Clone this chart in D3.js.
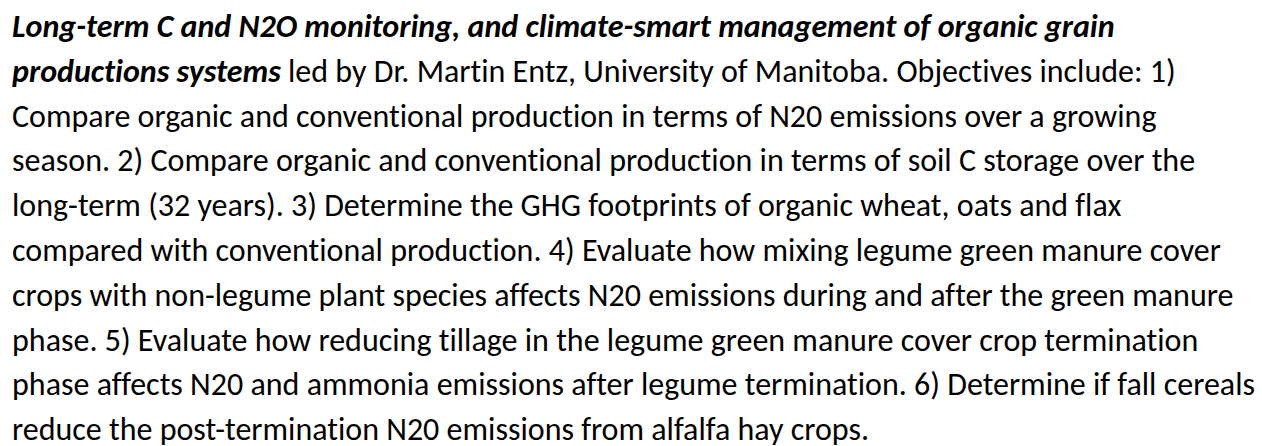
<!DOCTYPE html>
<html><head><meta charset="utf-8">
<script src="https://cdn.jsdelivr.net/npm/d3@7"></script>
<style>
  body { margin: 0; background: #fff; }
  text { font-family: Carlito, Calibri, "Open Sans", sans-serif; font-size: 32px; fill: #000;
         font-variant-ligatures: none; font-feature-settings: "liga" 0, "clig" 0; }
  .em { font-weight: bold; font-style: italic; }
</style>
</head><body>
<svg id="para" width="1262" height="446"></svg>
<script>
// paragraph text, one entry per printed line; segments flagged true are bold italic
var titleText = [
    [["Long-term C and N2O monitoring, and climate-smart management of organic grain", true]],
    [["productions systems", true], [" led by Dr. Martin Entz, University of Manitoba. Objectives include: 1)", false]]
];
var bodyText = [
    "Compare organic and conventional production in terms of N20 emissions over a growing",
    "season. 2) Compare organic and conventional production in terms of soil C storage over the",
    "long-term (32 years). 3) Determine the GHG footprints of organic wheat, oats and flax",
    "compared with conventional production. 4) Evaluate how mixing legume green manure cover",
    "crops with non-legume plant species affects N20 emissions during and after the green manure",
    "phase. 5) Evaluate how reducing tillage in the legume green manure cover crop termination",
    "phase affects N20 and ammonia emissions after legume termination. 6) Determine if fall cereals",
    "reduce the post-termination N20 emissions from alfalfa hay crops."
];

var lines = titleText.concat(bodyText.map(function(s){ return [[s, false]]; }));

var marginLeft = 12, firstBaseline = 37, lineGap = 44.8;

// point scale for the line positions
var yScale = d3.scalePoint()
    .domain(d3.range(lines.length))
    .range([firstBaseline, firstBaseline + lineGap * (lines.length - 1)]);

var svg = d3.select("#para");

var rows = svg.selectAll("text.row")
    .data(lines)
    .enter()
    .append("text")
    .attr("class", "row")
    .attr("x", marginLeft)
    .attr("y", function(d, i){ return yScale(i); })
    .attr("xml:space", "preserve");

rows.selectAll("tspan")
    .data(function(d){ return d; })
    .enter()
    .append("tspan")
    .attr("class", function(d){ return d[1] ? "em" : null; })
    .style("white-space", "pre")
    .text(function(d){ return d[0]; });
</script></body></html>
